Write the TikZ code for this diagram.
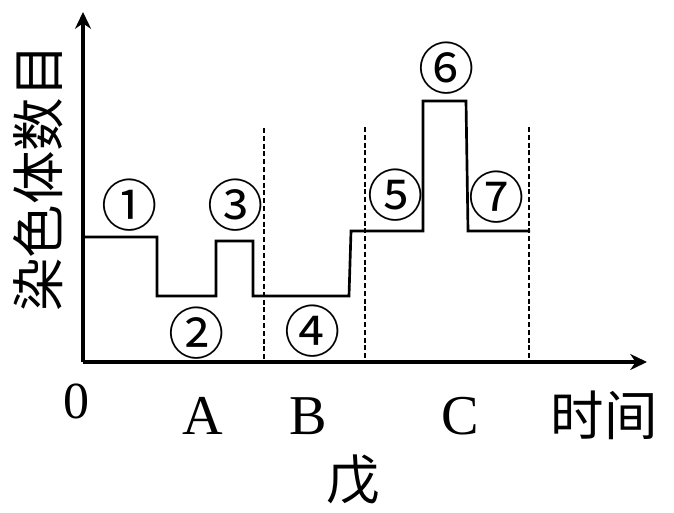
\documentclass[tikz,border=0pt]{standalone}
\usepackage{fontspec}
\setmainfont{Liberation Serif}
\newfontfamily\cjk{Noto Sans CJK SC}
\usetikzlibrary{arrows.meta}

\begin{document}
\begin{tikzpicture}[x=0.025cm,y=-0.025cm]
\useasboundingbox (0,0) rectangle (674,512);
\tikzset{axis/.style={line width=2.4pt,-{Stealth[length=0.42cm,width=0.4cm]}},
  curve/.style={line width=1.9pt},
  sep/.style={line width=1.3pt,dash pattern=on 0.125cm off 0.07cm},
  num/.style={font=\cjk\fontsize{40}{40}\selectfont,inner sep=0pt},
  lat/.style={font=\fontsize{40}{40}\selectfont,inner sep=0pt},
  han/.style={font=\cjk\fontsize{38}{38}\selectfont,inner sep=0pt}}
% axes
\coordinate (O) at (83,362);
\coordinate (ytop) at (83,12);
\coordinate (xend) at (647,362);
\draw[axis] (O)--(ytop);
\draw[axis] (O)--(xend);
% boundaries
\draw[sep](264,128)--(264,362);
\draw[sep](365,127)--(365,362);
\draw[sep](529,127)--(529,362);
% chromosome number
\draw[curve](83,237)--(157,237)--(157,296)--(216,296)--(216,241)--(253,241)--(253,296)
  --(349,296)--(351,231)--(423,231)--(423,101)--(466,101)--(468,231)--(530,231);
\node[num] (n1) at (130,205) {①};
\node[num] (n2) at (197,333) {②};
\node[num] (n3) at (236,205) {③};
\node[num] (n4) at (313,331) {④};
\node[num] (n5) at (396,195) {⑤};
\node[num] (n6) at (447,68) {⑥};
\node[num] (n7) at (497,197) {⑦};
% labels
\node[han,rotate=90] (ylab) at (38,178) {染色体数目};
\node[han] (xlab) at (604,415) {时间};
\node[font=\fontsize{37}{37}\selectfont,inner sep=0pt] (zero) at (77,401) {0};
\node[lat] (labA) at (203,416) {A};
\node[lat] (labB) at (308,416) {B};
\node[lat] (labC) at (460,416) {C};
\node[han] (title) at (353,480) {戊};
\end{tikzpicture}
\end{document}
